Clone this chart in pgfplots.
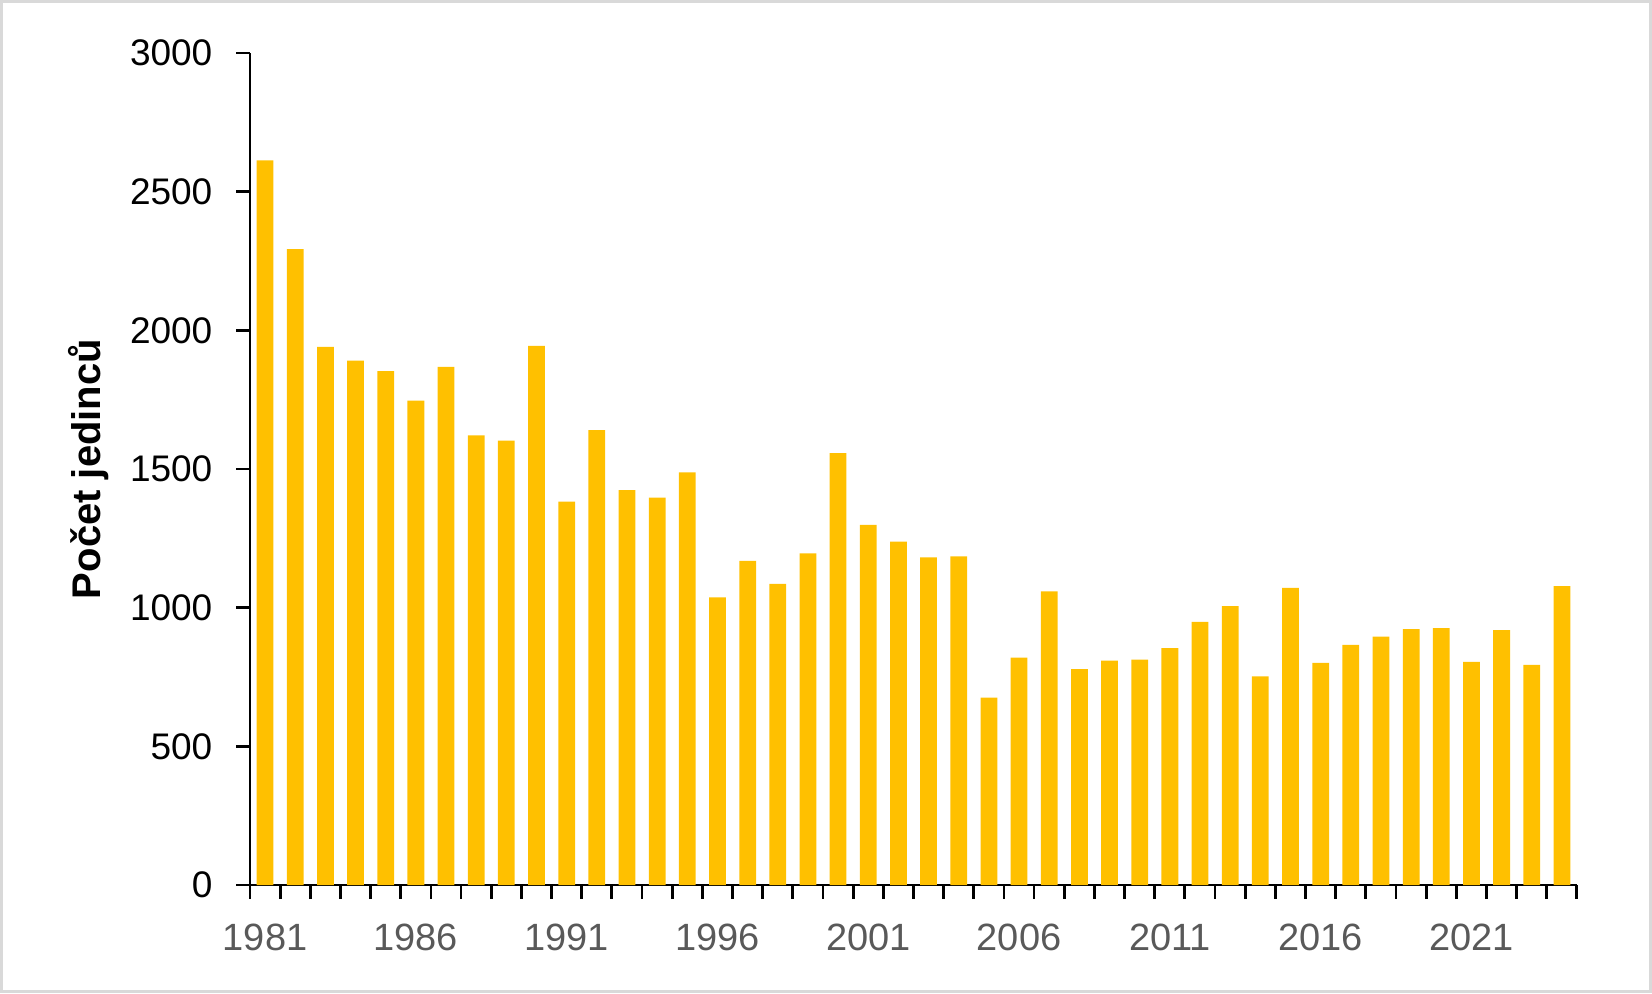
\documentclass[border=0pt]{standalone}
\usepackage{pgfplots}
\pgfplotsset{compat=1.18}
\usepackage{fontspec}
\setmainfont{Liberation Sans}
\definecolor{bargold}{HTML}{FFC000}
\definecolor{ticktext}{HTML}{595959}
\definecolor{framegray}{HTML}{D9D9D9}

\begin{document}
\begin{tikzpicture}
\path[use as bounding box] (0,0) rectangle (826pt,496.5pt);
\draw[framegray, line width=1.5pt] (0.75pt,0.75pt) rectangle (825.25pt,495.75pt);
\begin{axis}[
    at={(125pt,54pt)}, anchor=south west,
    scale only axis, width=663.5pt, height=416pt,
    xmin=1980.5, xmax=2024.5, ymin=0, ymax=3000,
    axis x line*=bottom, axis y line*=left,
    axis line style={line width=1.4pt, black},
    ytick={0,500,...,3000},
    xtick={1981,1986,...,2021},
    minor xtick={1980.5,1981.5,...,2024.5},
    major x tick style={draw=none},
    tick align=outside,
    major tick length=6.8pt, minor tick length=6.8pt,
    every tick/.style={black, line width=1.4pt},
    /pgf/number format/1000 sep={},
    /pgf/number format/assume math mode=true,
    xticklabel style={font=\fontsize{19}{22}\selectfont, text=ticktext, yshift=-9pt},
    yticklabel style={font=\fontsize{18.5}{22}\selectfont, text=black, xshift=-8.5pt},
    ylabel={Počet jedinců},
    every axis y label/.style={at={(axis description cs:-0.1213,0.5)}, rotate=90, anchor=center,
        font=\fontsize{20}{24}\selectfont\bfseries},
    clip=false,
]
\addplot[ybar, fill=bargold, draw=none, bar width=0.556] coordinates {
    (1981,2613) (1982,2293) (1983,1940) (1984,1891) (1985,1853)
    (1986,1747) (1987,1868) (1988,1621) (1989,1602) (1990,1944)
    (1991,1382) (1992,1640) (1993,1424) (1994,1397) (1995,1488)
    (1996,1037) (1997,1169) (1998,1086) (1999,1196) (2000,1557)
    (2001,1299) (2002,1238) (2003,1181) (2004,1185) (2005,676)
    (2006,820) (2007,1059) (2008,778) (2009,809) (2010,813)
    (2011,854) (2012,949) (2013,1006) (2014,752) (2015,1071)
    (2016,801) (2017,866) (2018,896) (2019,923) (2020,926)
    (2021,805) (2022,919) (2023,794) (2024,1078)
};
\end{axis}
\end{tikzpicture}
\end{document}
